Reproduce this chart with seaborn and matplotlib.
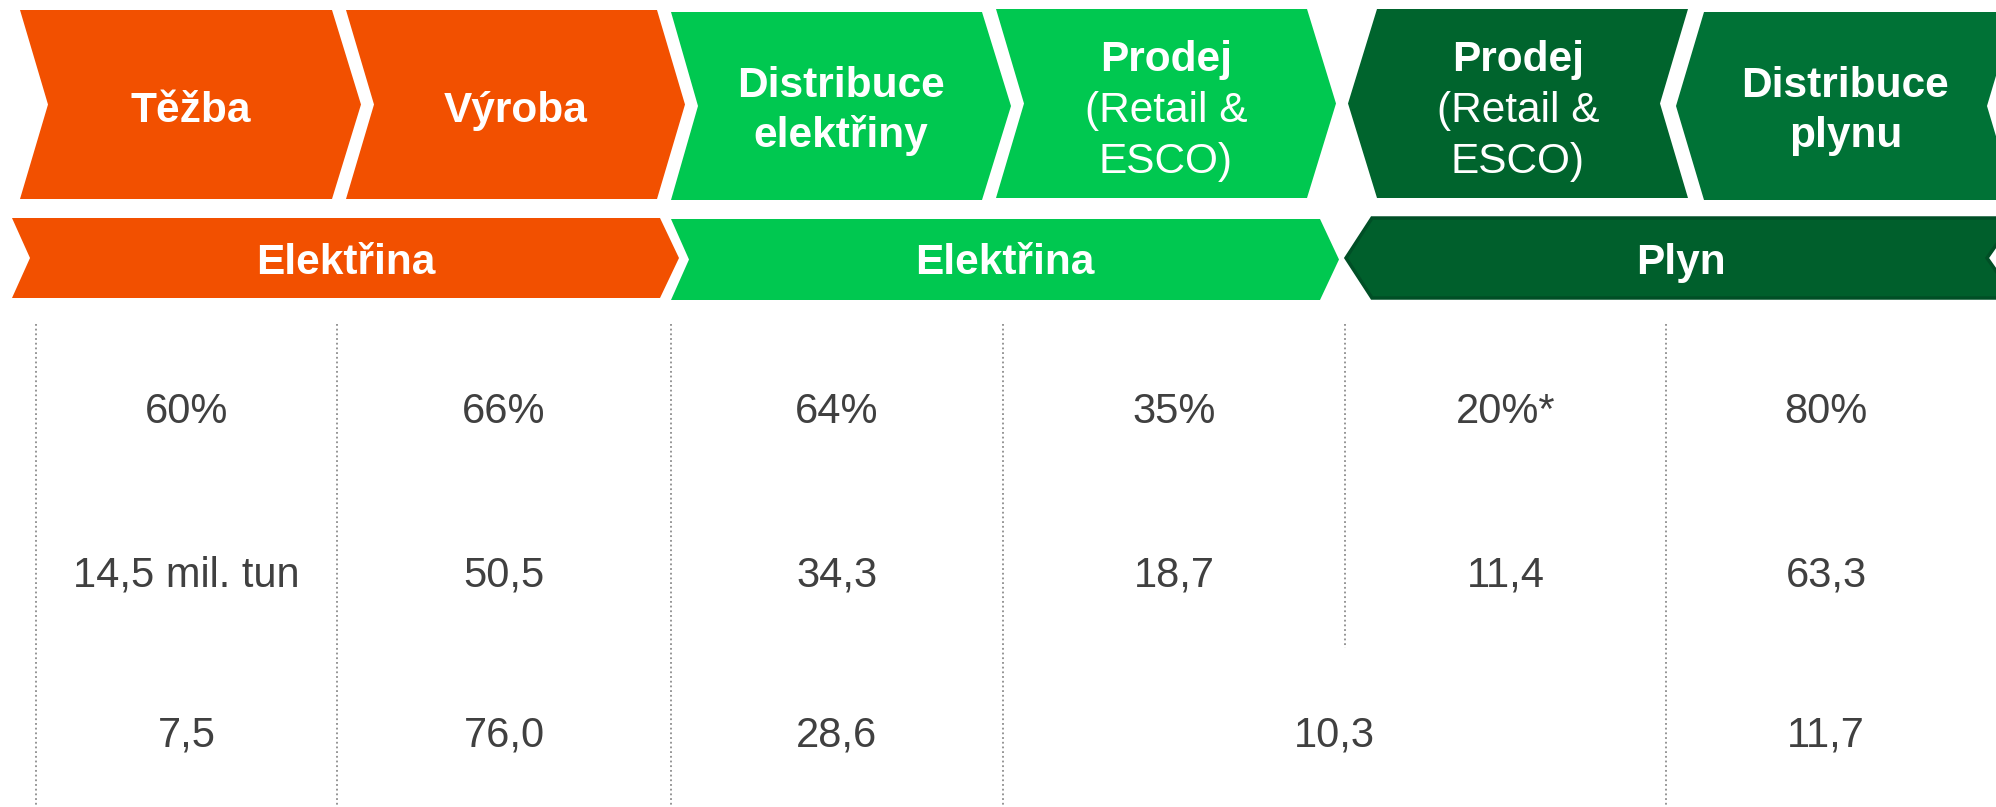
import matplotlib
matplotlib.use('Agg')
import matplotlib.pyplot as plt
from matplotlib.patches import Polygon
import seaborn as sns

sns.set_theme(style='white')
plt.rcParams['font.family'] = ['Liberation Sans', 'DejaVu Sans']

# chain segments (header title, sub text)
titles = ['Těžba', 'Výroba', 'Distribuce\nelektřiny', 'Prodej', 'Prodej', 'Distribuce\nplynu']
subtitles = ['', '', '', '(Retail &\nESCO)', '(Retail &\nESCO)', '']
bands = ['Elektřina', 'Elektřina', 'Plyn']

# table rows
row_share = ['60%', '66%', '64%', '35%', '20%*', '80%']
row_volume = ['14,5 mil. tun', '50,5', '34,3', '18,7', '11,4', '63,3']
row_last = ['7,5', '76,0', '28,6', '10,3', '11,7']
row_last_span = [(0, 1), (1, 2), (2, 3), (3, 5), (5, 6)]

# colours
ORANGE = '#F25000'
GREEN = '#00C850'
DARK1 = '#00642D'
DARK2 = '#007236'
BAND_DARK = '#005F2C'
TEXT = '#404040'

# layout in pixels: (left, right, tip, notch, top, bottom, direction)
seg_shapes = [
    (20, 332, 29, 28, 10, 199, 'r', ORANGE),
    (346, 657, 28, 28, 10, 199, 'r', ORANGE),
    (671, 982, 29, 27, 12, 200, 'r', GREEN),
    (996, 1307, 29, 28, 9, 198, 'r', GREEN),
    (1348, 1688, 29, 28, 9, 198, 'l', DARK1),
    (1676, 2015, 28, 28, 12, 200, 'l', DARK2),
]
band_shapes = [
    (12, 660, 19, 18, 218, 298, 'r', ORANGE),
    (671, 1320, 19, 18, 219, 300, 'r', GREEN),
    (1346, 2015, 26, 28, 218, 298, 'l', BAND_DARK),
]
dividers = [36, 337, 671, 1003, 1345, 1666, 1986]  # last one only for centring
short_divider = 4
row_base = [423, 586, 746]


def chevron(left, right, tip, notch, top, bottom, direction):
    mid = (top + bottom) / 2
    if direction == 'r':
        pts = [(left, top), (right, top), (right + tip, mid), (right, bottom),
               (left, bottom), (left + notch, mid)]
        cx = (left + right + tip) / 2
    else:
        pts = [(left, mid), (left + tip, top), (right, top), (right - notch, mid),
               (right, bottom), (left + tip, bottom)]
        cx = (left + right) / 2
    return pts, cx


fig = plt.figure(figsize=(19.96, 8.07), dpi=100)
ax = fig.add_axes([0, 0, 1, 1])
ax.set_xlim(0, 1996)
ax.set_ylim(807, 0)
ax.axis('off')

HEAD = 30.5
for i, shp in enumerate(seg_shapes):
    pts, cx = chevron(*shp[:7])
    ax.add_patch(Polygon(pts, closed=True, facecolor=shp[7], edgecolor='none'))
    lines = titles[i].split('\n')
    sub = subtitles[i].split('\n') if subtitles[i] else []
    allines = [(t, 'bold') for t in lines] + [(t, 'normal') for t in sub]
    n = len(allines)
    step = 51 if n == 3 else 50
    base0 = 122 - step * (n - 1) / 2
    for k, (t, w) in enumerate(allines):
        ax.text(cx, base0 + k * step, t, color='white', fontsize=HEAD,
                fontweight=w, ha='center', va='baseline')

# next chevron after the last one (mostly off canvas)
pts, _ = chevron(2003, 2320, 28, 28, 12, 200, 'l')
ax.add_patch(Polygon(pts, closed=True, facecolor=DARK2, edgecolor='none'))

for i, shp in enumerate(band_shapes):
    pts, cx = chevron(*shp[:7])
    edge = '#004F26' if shp[7] == BAND_DARK else 'none'
    ax.add_patch(Polygon(pts, closed=True, facecolor=shp[7], edgecolor=edge,
                         linewidth=2.5, joinstyle='miter'))
    ax.text(cx, 274, bands[i], color='white', fontsize=HEAD, fontweight='bold',
            ha='center', va='baseline')
pts, _ = chevron(2003, 2320, 26, 28, 218, 298, 'l')
ax.add_patch(Polygon(pts, closed=True, facecolor=BAND_DARK, edgecolor='#004F26',
                     linewidth=2.5))

# dotted separators
for j, x in enumerate(dividers[:-1]):
    y_end = 648 if j == short_divider else 807
    ax.plot([x, x], [324, y_end], linestyle=(0, (1, 1.6)), color='#8C8C8C',
            linewidth=1.3)

centers = [(dividers[j] + dividers[j + 1]) / 2 for j in range(len(dividers) - 1)]
for j, t in enumerate(row_share):
    ax.text(centers[j], row_base[0], t, color=TEXT, fontsize=30, ha='center', va='baseline')
for j, t in enumerate(row_volume):
    ax.text(centers[j], row_base[1], t, color=TEXT, fontsize=30, ha='center', va='baseline')
for (a, b), t in zip(row_last_span, row_last):
    cx = (dividers[a] + dividers[b]) / 2
    ax.text(cx, row_base[2], t, color=TEXT, fontsize=30, ha='center', va='baseline')

fig.savefig('out.png', dpi=100)
